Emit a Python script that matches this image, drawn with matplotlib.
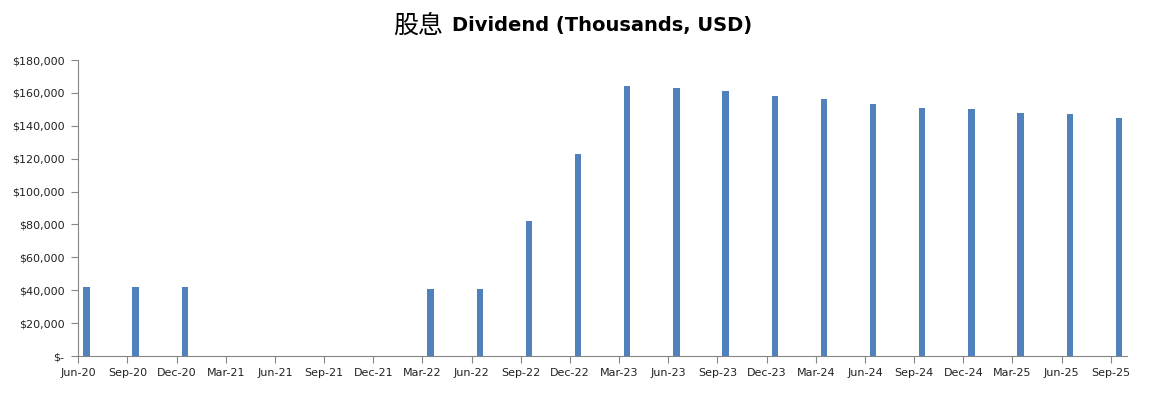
import matplotlib
matplotlib.use("Agg")
import matplotlib.pyplot as plt
from matplotlib.ticker import FuncFormatter
import numpy as np

quarters = ["Jun-20", "Sep-20", "Dec-20", "Mar-21", "Jun-21", "Sep-21", "Dec-21",
            "Mar-22", "Jun-22", "Sep-22", "Dec-22", "Mar-23", "Jun-23", "Sep-23",
            "Dec-23", "Mar-24", "Jun-24", "Sep-24", "Dec-24", "Mar-25", "Jun-25",
            "Sep-25"]
dividend = [42100, 42100, 42100, 0, 0, 0, 0,
            40800, 40800, 82100, 122800, 164200, 163000, 161100,
            158100, 156300, 153200, 150800, 150200, 147800, 147200,
            144700]

plt.rcParams['font.family'] = ['Noto Sans CJK SC', 'DejaVu Sans']

fig = plt.figure(figsize=(11.53, 3.93), dpi=100)
ax = fig.add_axes([78.3 / 1153, 37 / 393, (1127 - 78.3) / 1153, 296 / 393])

x = np.arange(len(quarters))
# bars sit a bit right of the tick (date axis in the source)
ax.bar(x + 0.165, dividend, width=0.13, color="#4F81BD", zorder=2)

ax.set_xlim(0, len(quarters) - 1 + 0.33)
ax.set_ylim(0, 180000)
ax.set_xticks(x)
ax.set_xticklabels(quarters, family=['DejaVu Sans'])
ax.set_yticks(np.arange(0, 180001, 20000))


def money(v, pos):
    if v == 0:
        return "$-"
    return "${:,.0f}".format(v)


ax.yaxis.set_major_formatter(FuncFormatter(money))
for lab in ax.get_yticklabels():
    lab.set_family(['DejaVu Sans'])

for s in ["top", "right"]:
    ax.spines[s].set_visible(False)
for s in ["left", "bottom"]:
    ax.spines[s].set_color("#868686")
ax.tick_params(axis="both", colors="#868686", labelcolor="#222222",
               labelsize=8, length=5, direction="out")
ax.tick_params(axis="y", pad=5)

fig.text(0.384, 0.935, "股息", ha="right", va="center", fontsize=18,
         family=['Noto Sans CJK SC'])
fig.text(0.392, 0.935, "Dividend (Thousands, USD)", ha="left", va="center",
         fontsize=14, fontweight="bold", family=['DejaVu Sans'])

fig.savefig("out.png", dpi=100)
